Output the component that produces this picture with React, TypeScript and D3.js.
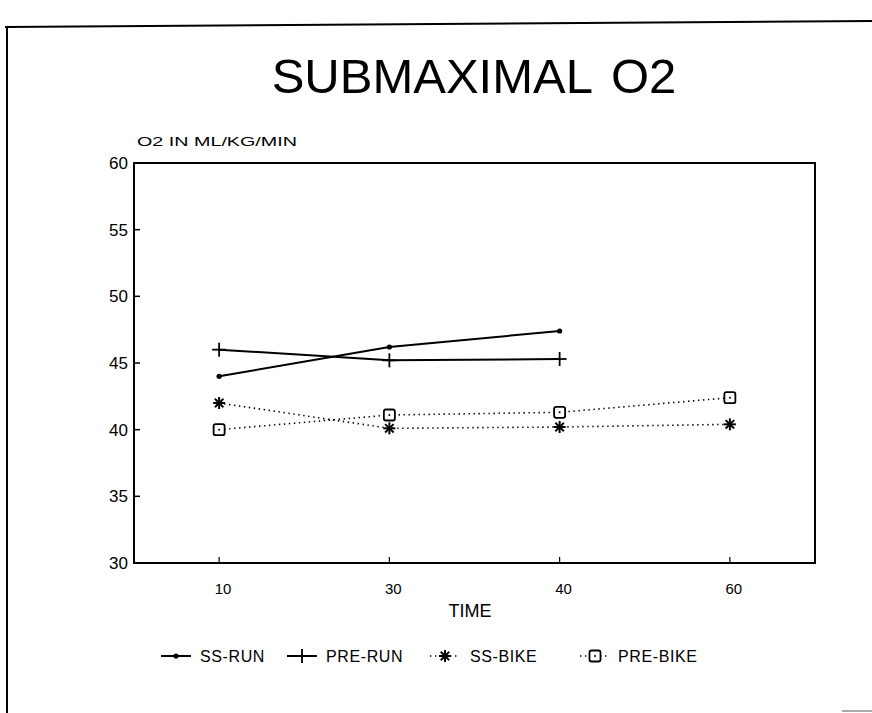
import * as d3 from "d3";

// chart values
const times = ["10", "30", "40", "60"];
const ssRun = [44.0, 46.2, 47.4];
const preRun = [46.0, 45.2, 45.3];
const ssBike = [42.0, 40.1, 40.2, 40.4];
const preBike = [40.0, 41.1, 41.3, 42.4];
const yTicks = [30, 35, 40, 45, 50, 55, 60];
const seriesNames = ["SS-RUN", "PRE-RUN", "SS-BIKE", "PRE-BIKE"];

const W = 872;
const H = 713;
const FONT = "'Liberation Sans', Arial, Helvetica, sans-serif";
const frame = { left: 134, right: 815, top: 163, bottom: 563 };

function Marker({ kind, x, y }: { kind: string; x: number; y: number }) {
  if (kind === "dot") return <circle cx={x} cy={y} r={2.6} fill="#000" />;
  if (kind === "plus")
    return (
      <g stroke="#000" strokeWidth={1.8}>
        <line x1={x - 7} x2={x + 7} y1={y} y2={y} />
        <line x1={x} x2={x} y1={y - 7} y2={y + 7} />
      </g>
    );
  if (kind === "star") {
    const r = 6;
    return (
      <g stroke="#000" strokeWidth={2}>
        {[0, 45, 90, 135].map((a) => {
          const t = (a * Math.PI) / 180;
          return (
            <line key={a} x1={x - r * Math.cos(t)} y1={y - r * Math.sin(t)} x2={x + r * Math.cos(t)} y2={y + r * Math.sin(t)} />
          );
        })}
      </g>
    );
  }
  return (
    <g>
      <rect x={x - 5.5} y={y - 5.5} width={11} height={11} rx={2} fill="#fff" stroke="#000" strokeWidth={1.8} />
      <circle cx={x} cy={y} r={1} fill="#000" />
    </g>
  );
}

export default function App() {
  const x = d3.scalePoint<string>().domain(times).range([frame.left, frame.right]).padding(0.5);
  const y = d3.scaleLinear().domain([30, 60]).range([frame.bottom, frame.top]);

  const series = [
    { name: seriesNames[0], values: ssRun, marker: "dot", dash: undefined, width: 2 },
    { name: seriesNames[1], values: preRun, marker: "plus", dash: undefined, width: 2 },
    { name: seriesNames[2], values: ssBike, marker: "star", dash: "1.4 3.6", width: 1.6 },
    { name: seriesNames[3], values: preBike, marker: "square", dash: "1.4 3.6", width: 1.6 },
  ];

  const line = d3
    .line<number>()
    .x((_, i) => x(times[i]) as number)
    .y((d) => y(d));

  const legendX = [176, 302, 445, 595];
  const legendTextX = [200, 326, 470, 618];
  const legendY = 656;

  return (
    <svg width={W} height={H} style={{ position: "absolute", left: 0, top: 0, background: "#fff" }} fontFamily={FONT}>
      {/* page border of the scan */}
      <line x1={5} x2={872} y1={27} y2={21} stroke="#000" strokeWidth={2} />
      <line x1={7} x2={7} y1={27} y2={713} stroke="#000" strokeWidth={2} />
      <line x1={842} x2={872} y1={711} y2={711} stroke="#555" strokeWidth={1} />

      <text x={474} y={93} textAnchor="middle" fontSize={49}>
        <tspan>SUBMAXIMAL</tspan>
        <tspan dx={18}>O2</tspan>
      </text>
      <text x={137} y={146} fontSize={13} textLength={160} lengthAdjust="spacingAndGlyphs">
        O2 IN ML/KG/MIN
      </text>

      <rect
        x={frame.left}
        y={frame.top}
        width={frame.right - frame.left}
        height={frame.bottom - frame.top}
        fill="none"
        stroke="#000"
        strokeWidth={2}
      />

      {yTicks.map((t) => (
        <g key={t}>
          <line x1={frame.left} x2={frame.left + 6} y1={y(t)} y2={y(t)} stroke="#000" strokeWidth={1.5} />
          <text x={128} y={y(t) + 6} textAnchor="end" fontSize={17}>
            {t}
          </text>
        </g>
      ))}

      {times.map((t) => (
        <g key={t}>
          <line x1={x(t)} x2={x(t)} y1={frame.bottom} y2={frame.bottom - 6} stroke="#000" strokeWidth={1.2} />
          <text x={(x(t) as number) + 4} y={594} textAnchor="middle" fontSize={15}>
            {t}
          </text>
        </g>
      ))}

      <text x={470} y={617} textAnchor="middle" fontSize={18}>
        TIME
      </text>

      {series.map((s) => (
        <g key={s.name}>
          <path d={line(s.values) ?? ""} fill="none" stroke="#000" strokeWidth={s.width} strokeDasharray={s.dash} />
          {s.values.map((v, i) => (
            <Marker key={i} kind={s.marker} x={x(times[i]) as number} y={y(v)} />
          ))}
        </g>
      ))}

      {series.map((s, i) => (
        <g key={"lg" + s.name}>
          <line
            x1={legendX[i] - 15}
            x2={legendX[i] + 15}
            y1={legendY}
            y2={legendY}
            stroke="#000"
            strokeWidth={s.width}
            strokeDasharray={s.dash}
          />
          <Marker kind={s.marker} x={legendX[i]} y={legendY} />
          <text x={legendTextX[i]} y={legendY + 6} fontSize={16} letterSpacing={0.6}>
            {s.name}
          </text>
        </g>
      ))}
    </svg>
  );
}
